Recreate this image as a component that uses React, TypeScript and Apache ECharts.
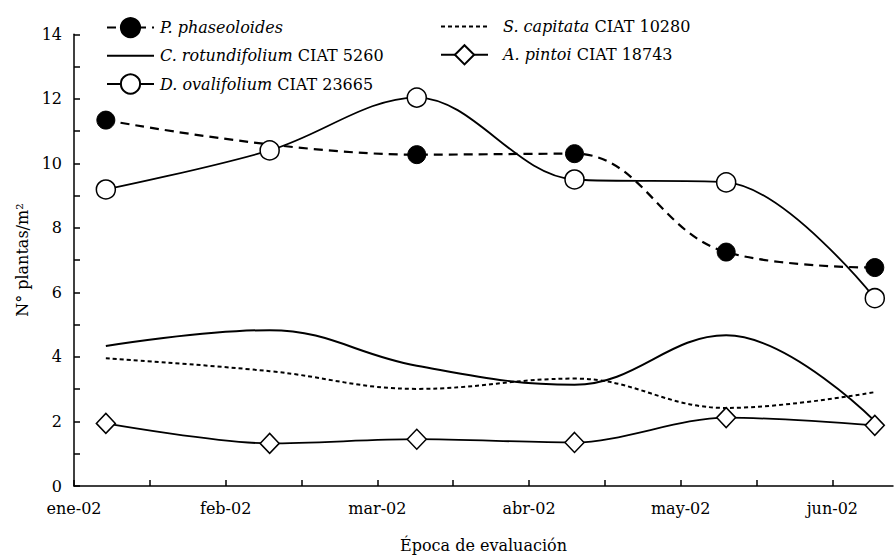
import React, { useEffect, useRef } from 'react';
import * as echarts from 'echarts';

const FONT = 'DejaVu Serif';
const FS = 16;

const monthLabels = ['ene-02', 'feb-02', 'mar-02', 'abr-02', 'may-02', 'jun-02'];
const monthPositions = [0, 1, 2, 3, 4, 5];
const monthTickPositions = [0, 0.5, 1, 1.5, 2, 2.5, 3, 3.5, 4, 4.5, 5];
const yTickPositions = [0, 1, 2, 3, 4, 5, 6, 7, 8, 9, 10, 11, 12, 13, 14];

// sampling dates, expressed in months since 1 Jan 2002
const samplingMonths = [0.21, 1.29, 2.26, 3.3, 4.3, 5.28];
const phaseoloidesMonths = [0.21, 2.26, 3.3, 4.3, 5.28];

const phaseoloides = [11.34, 10.27, 10.3, 7.25, 6.77];
const rotundifolium = [4.34, 4.83, 3.73, 3.14, 4.67, 2.01];
const ovalifolium = [9.19, 10.4, 12.04, 9.5, 9.41, 5.82];
const capitata = [3.96, 3.56, 3.01, 3.33, 2.42, 2.91];
const pintoi = [1.94, 1.32, 1.45, 1.35, 2.12, 1.88];

const speciesNames = ['P. phaseoloides', 'C. rotundifolium', 'D. ovalifolium', 'S. capitata', 'A. pintoi'];
const accessionCodes = ['', 'CIAT 5260', 'CIAT 23665', 'CIAT 10280', 'CIAT 18743'];
const seriesNames = speciesNames.map((s, i) => (accessionCodes[i] ? s + ' ' + accessionCodes[i] : s));

const pairs = (xs: number[], ys: number[]) => xs.map((x, i) => [x, ys[i]]);

export default function App() {
  const ref = useRef<HTMLDivElement>(null);
  useEffect(() => {
    if (!ref.current) return;
    const chart = echarts.init(ref.current, undefined, { renderer: 'svg' });
    const legendFormatter = (name: string) => {
      const i = seriesNames.indexOf(name);
      const sp = speciesNames[i];
      const code = accessionCodes[i];
      return code ? `{i|${sp}}{n| ${code}}` : `{i|${sp}}`;
    };
    const legendText = (padLeft: number) => ({
      fontFamily: FONT,
      fontSize: FS,
      color: '#000',
      rich: {
        i: { fontFamily: FONT, fontSize: FS, fontStyle: 'italic', color: '#000', padding: [0, 0, 0, padLeft] },
        n: { fontFamily: FONT, fontSize: FS, color: '#000' },
      },
    });
    const noMarker = { color: 'rgba(0,0,0,0)', borderColor: 'rgba(0,0,0,0)', borderWidth: 0 };
    const black = '#000';
    chart.setOption({
      animation: false,
      backgroundColor: '#fff',
      grid: { left: 74, right: 1, top: 34.3, bottom: 67.3, containLabel: false },
      legend: [
        {
          data: [
            { name: seriesNames[0] },
            { name: seriesNames[1], itemStyle: noMarker },
            { name: seriesNames[2] },
          ],
          orient: 'vertical',
          left: 101,
          top: 12,
          itemWidth: 47,
          itemHeight: 24,
          itemGap: 8,
          formatter: legendFormatter,
          textStyle: legendText(1),
          selectedMode: false,
        },
        {
          data: [{ name: seriesNames[3], itemStyle: noMarker }, { name: seriesNames[4] }],
          orient: 'vertical',
          left: 435,
          top: 12,
          itemWidth: 47,
          itemHeight: 24,
          itemGap: 8,
          formatter: legendFormatter,
          textStyle: legendText(10),
          selectedMode: false,
        },
      ],
      xAxis: {
        type: 'value',
        min: 0,
        max: 5.4,
        name: 'Época de evaluación',
        nameLocation: 'middle',
        nameGap: 51,
        nameTextStyle: { fontFamily: FONT, fontSize: FS, color: black },
        axisLine: { show: true, onZero: false, lineStyle: { color: black, width: 1.5 } },
        axisTick: { show: true, inside: true, length: 6, customValues: monthTickPositions, lineStyle: { color: black, width: 1.5 } },
        axisLabel: {
          customValues: monthPositions,
          formatter: (v: number) => monthLabels[Math.round(v)] ?? '',
          fontFamily: FONT,
          fontSize: FS,
          color: black,
          margin: 14,
        },
        splitLine: { show: false },
      },
      yAxis: {
        type: 'value',
        min: 0,
        max: 14,
        interval: 2,
        name: 'N° plantas/m²',
        nameLocation: 'middle',
        nameGap: 38,
        nameTextStyle: { fontFamily: FONT, fontSize: FS, color: black },
        axisLine: { show: true, lineStyle: { color: black, width: 1.5 } },
        axisTick: { show: true, inside: true, length: 6, customValues: yTickPositions, lineStyle: { color: black, width: 1.5 } },
        axisLabel: { fontFamily: FONT, fontSize: FS, color: black, margin: 12 },
        splitLine: { show: false },
      },
      series: [
        {
          name: seriesNames[0],
          type: 'line',
          smooth: 0.4,
          data: pairs(phaseoloidesMonths, phaseoloides),
          symbol: 'circle',
          symbolSize: 18,
          lineStyle: { color: black, width: 2.2, type: [9, 6] },
          itemStyle: { color: black, borderColor: black, borderWidth: 1 },
          z: 4,
        },
        {
          name: seriesNames[1],
          type: 'line',
          smooth: 0.4,
          data: pairs(samplingMonths, rotundifolium),
          symbol: 'none',
          lineStyle: { color: black, width: 2 },
          itemStyle: { color: black },
          z: 2,
        },
        {
          name: seriesNames[2],
          type: 'line',
          smooth: 0.35,
          data: pairs(samplingMonths, ovalifolium),
          symbol: 'circle',
          symbolSize: 19,
          lineStyle: { color: black, width: 1.8 },
          itemStyle: { color: '#fff', borderColor: black, borderWidth: 1.5 },
          z: 5,
        },
        {
          name: seriesNames[3],
          type: 'line',
          smooth: 0.4,
          data: pairs(samplingMonths, capitata),
          symbol: 'none',
          lineStyle: { color: black, width: 2, type: [4, 3] },
          itemStyle: { color: black },
          z: 2,
        },
        {
          name: seriesNames[4],
          type: 'line',
          smooth: 0.3,
          data: pairs(samplingMonths, pintoi),
          symbol: 'diamond',
          symbolSize: [19, 20],
          lineStyle: { color: black, width: 1.8 },
          itemStyle: { color: '#fff', borderColor: black, borderWidth: 1.5 },
          z: 3,
        },
      ],
    });
    return () => chart.dispose();
  }, []);
  return <div ref={ref} style={{ position: 'fixed', left: 0, top: 0, width: 894, height: 558 }} />;
}
